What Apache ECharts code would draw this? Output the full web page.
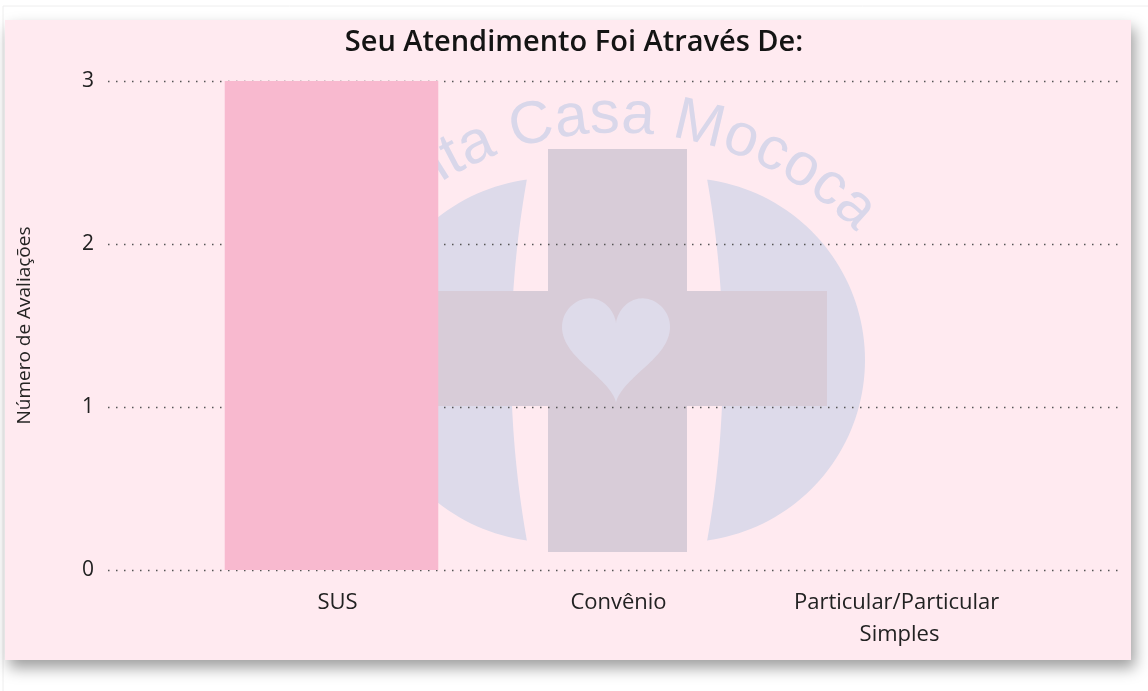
<!DOCTYPE html>
<html><head><meta charset="utf-8">
<script src="https://cdn.jsdelivr.net/npm/echarts@6/dist/echarts.min.js"></script>
<style>html,body{margin:0;padding:0;background:#fff}#c{width:1148px;height:691px}</style>
</head><body><div id="c"></div>
<script>
// ---- data ----
const chartTitle = 'Seu Atendimento Foi Através De:';
const yAxisName = 'Número de Avaliações';
const categories = ['SUS', 'Convênio', 'Particular/Particular Simples'];
const values = [3, 0, 0];
const yMin = 0, yMax = 3, yStep = 1;
const watermarkText = 'Santa Casa Mococa';

// ---- decorative watermark (logo) ----
function arc(cx, cy, r, a0, a1, n) {
  const p = [];
  for (let i = 0; i <= n; i++) {
    const a = a0 + (a1 - a0) * i / n;
    p.push([cx + r * Math.cos(a), cy + r * Math.sin(a)]);
  }
  return p;
}
function lobe(mirror) {
  const cx = 683, cy = 360, r = 182;
  const phi = Math.acos(24 / r);
  const R = 1037, icx = 723 - R;
  const psi = Math.asin(181.6 / R);
  let pts = arc(cx, cy, r, -phi, phi, 80).concat(arc(icx, cy, R, psi, -psi, 40));
  if (mirror) pts = pts.map(p => [1234 - p[0], p[1]]);
  return pts;
}
function heart() {
  const pts = [], sx = 3.375, sy = 3.62, x0 = 616, y0 = 341.5;
  for (let i = 0; i < 200; i++) {
    const t = 2 * Math.PI * i / 200;
    const x = 16 * Math.pow(Math.sin(t), 3);
    const y = -(13 * Math.cos(t) - 5 * Math.cos(2 * t) - 2 * Math.cos(3 * t) - Math.cos(4 * t));
    pts.push([x0 + x * sx, y0 + y * sy]);
  }
  return pts;
}
function arcText() {
  const font = '60px "Liberation Sans", Arial, sans-serif';
  const ctx = document.createElement('canvas').getContext('2d');
  ctx.font = font;
  const chars = watermarkText.split('');
  const centers = [];
  let acc = 0;
  chars.forEach(ch => { const w = ctx.measureText(ch).width; centers.push(acc + w / 2); acc += w; });
  const iC = watermarkText.indexOf('C'), iL = chars.length - 1;
  const aC = -14 * Math.PI / 180, aL = 42.3 * Math.PI / 180;
  const k = (aL - aC) / (centers[iL] - centers[iC]);
  const cx = 617, cy = 470, r = 354;
  const els = [];
  chars.forEach((ch, i) => {
    if (ch === ' ') return;
    const a = aC + (centers[i] - centers[iC]) * k;
    els.push({
      type: 'text', x: cx + r * Math.sin(a), y: cy - r * Math.cos(a), rotation: -a,
      silent: true, z: 0, z2: 6,
      style: { text: ch, font: font, fill: '#D9D7EA', align: 'center', verticalAlign: 'middle' }
    });
  });
  return els;
}

const graphics = [
  { type: 'rect', silent: true, z: 0, z2: 0, shape: { x: 3, y: 6, width: 1150, height: 690 },
    style: { fill: '#ffffff', stroke: '#eeeeee', lineWidth: 1 } },
  { type: 'rect', silent: true, z: 0, z2: 1, shape: { x: 5, y: 20, width: 1126, height: 640 },
    style: { fill: '#FFEAF0', shadowBlur: 14, shadowOffsetX: 4, shadowOffsetY: 8, shadowColor: 'rgba(0,0,0,0.38)' } },
  { type: 'polygon', silent: true, z: 0, z2: 2, shape: { points: lobe(false) }, style: { fill: '#DDDAEA' } },
  { type: 'polygon', silent: true, z: 0, z2: 2, shape: { points: lobe(true) }, style: { fill: '#DDDAEA' } },
  { type: 'rect', silent: true, z: 0, z2: 3, shape: { x: 548, y: 149, width: 139, height: 403 }, style: { fill: '#D8CCD8' } },
  { type: 'rect', silent: true, z: 0, z2: 3, shape: { x: 408, y: 291, width: 419, height: 115 }, style: { fill: '#D8CCD8' } },
  { type: 'polygon', silent: true, z: 0, z2: 4, shape: { points: heart() }, style: { fill: '#DEDBEA' } }
].concat(arcText());

const labelFont = '"Open Sans", "Noto Sans", sans-serif';
const option = {
  animation: false,
  backgroundColor: '#ffffff',
  graphic: graphics,
  title: {
    text: chartTitle, left: 'center', top: 23, z: 10,
    textStyle: { fontFamily: '"Open Sans", sans-serif', fontWeight: 600, fontSize: 29, color: '#141414' }
  },
  grid: [
    { left: 108, right: 26, top: 81, bottom: 121 },
    { left: 191, width: 843, top: 81, bottom: 121 }
  ],
  xAxis: [
    { gridIndex: 0, type: 'value', show: false, min: 0, max: 1 },
    { gridIndex: 1, type: 'category', data: categories, z: 3,
      axisLine: { show: false }, axisTick: { show: false },
      axisLabel: { margin: 17, fontSize: 22, lineHeight: 32, color: '#222222', fontFamily: labelFont,
        width: 250, overflow: 'break', interval: 0, padding: [0, 0, 0, 12] } }
  ],
  yAxis: [
    { gridIndex: 0, type: 'value', min: yMin, max: yMax, interval: yStep, z: 3,
      name: yAxisName, nameLocation: 'middle', nameGap: 74,
      nameTextStyle: { fontSize: 19, color: '#252423', fontFamily: labelFont },
      axisLine: { show: false }, axisTick: { show: false },
      axisLabel: { margin: 14, fontSize: 21, color: '#222222', fontFamily: labelFont },
      splitLine: { show: true, lineStyle: { color: '#555555', width: 1.3, type: [1.5, 6.5] } } },
    { gridIndex: 1, type: 'value', min: yMin, max: yMax, interval: yStep, show: false, splitLine: { show: false } }
  ],
  series: [{
    type: 'bar', xAxisIndex: 1, yAxisIndex: 1, data: values, z: 5,
    barCategoryGap: '24%', itemStyle: { color: '#F8B9CF' }
  }]
};
const chart = echarts.init(document.getElementById('c'), null, { renderer: 'canvas' });
chart.setOption(option);
</script>
</body></html>
